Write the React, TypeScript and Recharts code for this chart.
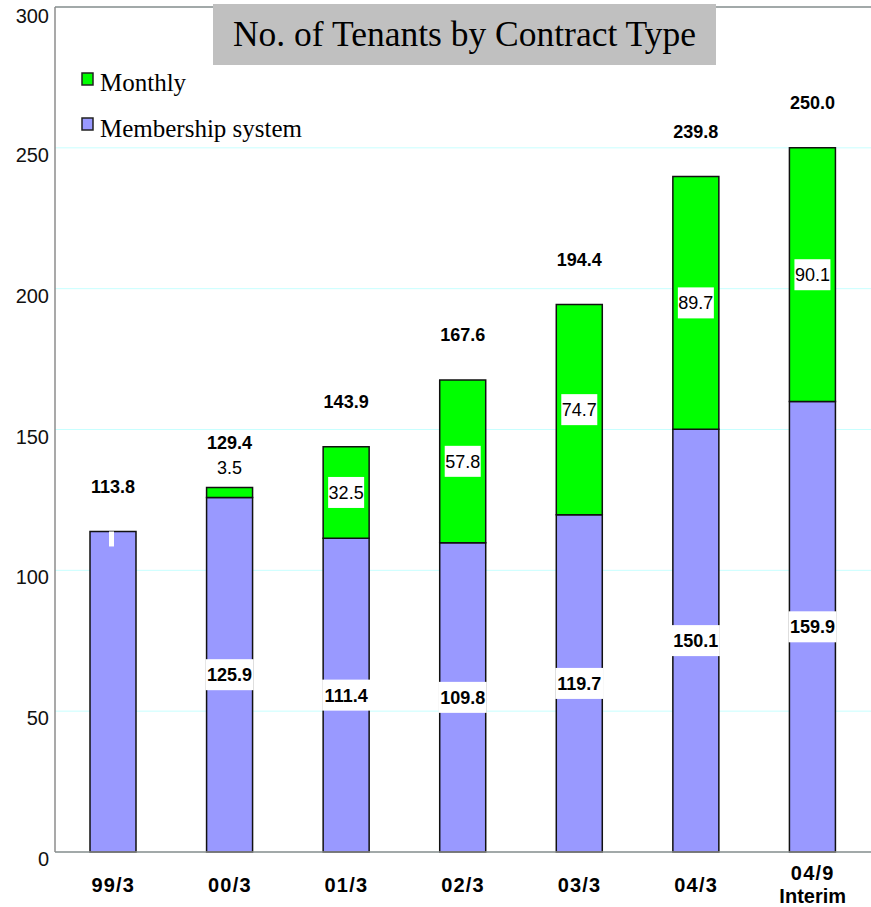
import { Bar, BarChart, CartesianGrid, LabelList, ReferenceLine, XAxis, YAxis } from 'recharts';

const periods = ['99/3', '00/3', '01/3', '02/3', '03/3', '04/3', '04/9\nInterim'];
const membership = [113.8, 125.9, 111.4, 109.8, 119.7, 150.1, 159.9];
const monthly = [0, 3.5, 32.5, 57.8, 74.7, 89.7, 90.1];
const totals = [113.8, 129.4, 143.9, 167.6, 194.4, 239.8, 250.0];
const yTicks = [0, 50, 100, 150, 200, 250, 300];

const data = periods.map((p, i) => ({
  period: p,
  membership: membership[i],
  monthly: monthly[i],
  total: totals[i],
}));

const SANS = '"Liberation Sans", Arial, sans-serif';
const SERIF = '"Liberation Serif", "Times New Roman", serif';
const AXIS = '#8c8c8c';

function XTick({ x, y, payload }: any) {
  const lines = String(payload.value).split('\n');
  if (lines.length === 1) {
    return (
      <text x={x} y={y + 40} textAnchor="middle" fontFamily={SANS} fontSize={20} fontWeight="bold" letterSpacing={1.2} fill="#000">
        {lines[0]}
      </text>
    );
  }
  return (
    <g>
      <text x={x} y={y + 28} textAnchor="middle" fontFamily={SANS} fontSize={20} fontWeight="bold" letterSpacing={1.2} fill="#000">
        {lines[0]}
      </text>
      <text x={x} y={y + 51} textAnchor="middle" fontFamily={SANS} fontSize={20} fontWeight="bold" fill="#000">
        {lines[1]}
      </text>
    </g>
  );
}

function YTick({ x, y, payload }: any) {
  return (
    <text x={x - 6} y={y + 14} textAnchor="end" fontFamily={SANS} fontSize={20} fill="#111">
      {payload.value}
    </text>
  );
}

// 회원제 라벨 + 합계 라벨 (합계는 누적 막대 꼭대기 기준)
function MemberLabel(props: any) {
  const { x, y, width, height, value, index } = props;
  const cx = x + width / 2;
  const cy = y + height / 2;
  const pxPerUnit = height / value;
  const top = y - monthly[index] * pxPerUnit;
  const onlyMember = monthly[index] === 0;
  return (
    <g>
      {!onlyMember && (
        <>
          <rect x={cx - 24} y={cy - 15.5} width={48} height={31} fill="#fff" />
          <text x={cx} y={cy + 6.5} textAnchor="middle" fontFamily={SANS} fontSize={18} fontWeight="bold" fill="#000">
            {Number(value).toFixed(1)}
          </text>
        </>
      )}
      {onlyMember && <rect x={cx - 4} y={y} width={5} height={15} fill="#fff" />}
      <text x={cx} y={top - 38.5} textAnchor="middle" fontFamily={SANS} fontSize={18} fontWeight="bold" fill="#000">
        {totals[index].toFixed(1)}
      </text>
    </g>
  );
}

// 월정액 라벨: 작으면 막대 위로
function MonthlyLabel(props: any) {
  const { x, y, width, height, value } = props;
  if (!value) return null;
  const cx = x + width / 2;
  const txt = Number(value).toFixed(1);
  const w = txt.length * 9;
  const cy = height < 36 ? y - 20 : y + height / 2;
  return (
    <g>
      <rect x={cx - w / 2} y={cy - 15.5} width={w} height={31} fill="#fff" />
      <text x={cx} y={cy + 6.5} textAnchor="middle" fontFamily={SANS} fontSize={18} fill="#000">
        {txt}
      </text>
    </g>
  );
}

function LegendBox() {
  const items = [
    { name: 'Monthly', color: '#00ff00' },
    { name: 'Membership system', color: '#9999ff' },
  ];
  return (
    <svg width={260} height={80} style={{ position: 'absolute', left: 81, top: 68 }}>
      {items.map((it, i) => (
        <g key={it.name}>
          <rect x={1} y={5 + i * 45} width={11} height={12} fill={it.color} stroke="#222" strokeWidth={1.5} />
          <text x={19} y={23 + i * 46} fontFamily={SERIF} fontSize={25} fill="#000">
            {it.name}
          </text>
        </g>
      ))}
    </svg>
  );
}

export default function App() {
  return (
    <div style={{ position: 'absolute', left: 0, top: 0, width: 871, height: 907, background: '#fff' }}>
      <BarChart width={871} height={907} data={data} margin={{ top: 7, right: 0, left: 0, bottom: 0 }} barSize={46}>
        <CartesianGrid vertical={false} stroke="#c8ffff" strokeWidth={1} />
        <XAxis dataKey="period" interval={0} height={55} tickLine={false} tickSize={0} tickMargin={0} axisLine={{ stroke: AXIS, strokeWidth: 1.5 }} tick={<XTick />} />
        <YAxis domain={[0, 300]} ticks={yTicks} width={55} tickLine={false} tickSize={0} tickMargin={0} axisLine={{ stroke: AXIS, strokeWidth: 1.5 }} tick={<YTick />} />
        <ReferenceLine y={300} stroke={AXIS} strokeWidth={1.5} />
        <Bar dataKey="membership" stackId="a" fill="#9999ff" stroke="#111" strokeWidth={1.5} isAnimationActive={false}>
          <LabelList dataKey="membership" content={<MemberLabel />} />
        </Bar>
        <Bar dataKey="monthly" stackId="a" fill="#00ff00" stroke="#111" strokeWidth={1.5} isAnimationActive={false}>
          <LabelList dataKey="monthly" content={<MonthlyLabel />} />
        </Bar>
      </BarChart>
      <LegendBox />
      <div
        style={{
          position: 'absolute',
          left: 213,
          top: 4,
          width: 503,
          height: 61,
          background: '#c0c0c0',
          fontFamily: SERIF,
          fontSize: 35.5,
          lineHeight: '61px',
          textAlign: 'center',
          color: '#000',
        }}
      >
        No. of Tenants by Contract Type
      </div>
    </div>
  );
}
